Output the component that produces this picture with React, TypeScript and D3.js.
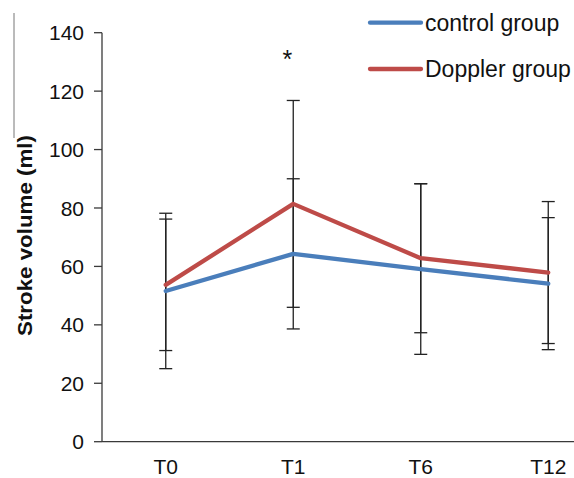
import React from "react";
import * as d3 from "d3";

const categories = ["T0", "T1", "T6", "T12"];
const controlMean = [51.6, 64.3, 59.1, 54.1];
const controlSD = [26.6, 25.7, 29.2, 22.6];
const dopplerMean = [53.7, 81.4, 62.8, 57.9];
const dopplerSD = [22.5, 35.4, 25.5, 24.3];
const yTicks = [0, 20, 40, 60, 80, 100, 120, 140];
const seriesNames = ["control group", "Doppler group"];
const seriesColors = ["#4a7ebb", "#be4b48"];
const significance = ["", "*", "", ""];

const W = 574;
const H = 478;
const FONT = "'Liberation Sans', Arial, sans-serif";

export default function App() {
  const x = d3.scaleBand<string>().domain(categories).range([102, 612]);
  const y = d3.scaleLinear().domain([0, 140]).range([441.7, 32.7]);
  const cx = (c: string) => (x(c) as number) + x.bandwidth() / 2;

  const series = [
    { name: seriesNames[0], mean: controlMean, sd: controlSD, color: seriesColors[0] },
    { name: seriesNames[1], mean: dopplerMean, sd: dopplerSD, color: seriesColors[1] },
  ];

  const line = d3
    .line<number>()
    .x((_, i) => cx(categories[i]))
    .y((d) => y(d));

  const axisColor = "#3a3a3a";

  return (
    <svg
      width={W}
      height={H}
      style={{ position: "absolute", left: 0, top: 0, background: "#fff" }}
      fontFamily={FONT}
    >
      <rect x={0} y={0} width={W} height={H} fill="#fff" />
      {/* stray frame line at far left */}
      <line x1={14} x2={14} y1={13} y2={138} stroke="#777" strokeWidth={1} />

      {/* y axis */}
      <line x1={102} x2={102} y1={y(140)} y2={y(0)} stroke={axisColor} strokeWidth={1.3} />
      {yTicks.map((t) => (
        <g key={t}>
          <line x1={94} x2={102} y1={y(t)} y2={y(t)} stroke={axisColor} strokeWidth={1.3} />
          <text x={84} y={y(t)} dy="0.36em" textAnchor="end" fontSize={21} fill="#111">
            {t}
          </text>
        </g>
      ))}
      <text
        transform={`translate(32,${235.5}) rotate(-90)`}
        textAnchor="middle"
        fontSize={20}
        fontWeight="bold"
        fill="#111"
        textLength={201}
        lengthAdjust="spacingAndGlyphs"
      >
        Stroke volume (ml)
      </text>

      {/* x axis */}
      <line x1={102} x2={W} y1={y(0)} y2={y(0)} stroke={axisColor} strokeWidth={1.3} />
      {categories.map((c) => (
        <text key={c} x={cx(c)} y={473.5} textAnchor="middle" fontSize={21} fill="#111">
          {c}
        </text>
      ))}

      {/* error bars */}
      {series.map((s) =>
        categories.map((c, i) => {
          const hi = y(s.mean[i] + s.sd[i]);
          const lo = y(s.mean[i] - s.sd[i]);
          const xc = cx(c);
          return (
            <g key={s.name + c} stroke="#222" strokeWidth={1.3}>
              <line x1={xc} x2={xc} y1={hi} y2={lo} />
              <line x1={xc - 6.5} x2={xc + 6.5} y1={hi} y2={hi} />
              <line x1={xc - 6.5} x2={xc + 6.5} y1={lo} y2={lo} />
            </g>
          );
        })
      )}

      {/* lines */}
      {series.map((s) => (
        <path
          key={s.name}
          d={line(s.mean) as string}
          fill="none"
          stroke={s.color}
          strokeWidth={4.3}
          strokeLinejoin="round"
          strokeLinecap="round"
        />
      ))}

      {/* significance */}
      {categories.map((c, i) =>
        significance[i] ? (
          <text key={"sig" + c} x={cx(c) - 6} y={68} textAnchor="middle" fontSize={25} fill="#111">
            {significance[i]}
          </text>
        ) : null
      )}

      {/* legend */}
      {series.map((s, i) => (
        <g key={"leg" + s.name} transform={`translate(0,${22.7 + i * 46.3})`}>
          <line x1={370} x2={421} y1={0} y2={0} stroke={s.color} strokeWidth={4.3} strokeLinecap="round" />
          <text x={425} y={0} dy="0.35em" fontSize={23} fill="#111">
            {s.name}
          </text>
        </g>
      ))}
    </svg>
  );
}
